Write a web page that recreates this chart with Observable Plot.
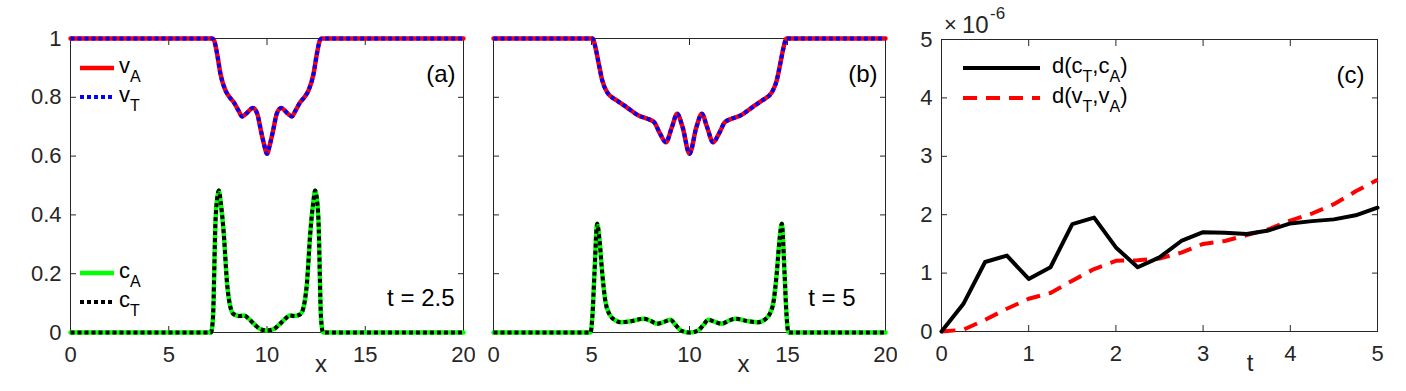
<!DOCTYPE html>
<html>
<head>
<meta charset="utf-8">
<script src="https://cdn.jsdelivr.net/npm/d3@7"></script>
<script src="https://cdn.jsdelivr.net/npm/@observablehq/plot@0.6"></script>
<style>
  body { margin: 0; background: #fff; }
  #wrap { position: relative; width: 1406px; height: 391px; overflow: hidden; background: #fff; }
  .panel { position: absolute; top: 0; }
  svg { font-family: "Liberation Sans", Arial, Helvetica, sans-serif; }
</style>
</head>
<body>
<div id="wrap">
  <div class="panel" id="pa" style="left:0px"></div>
  <div class="panel" id="pb" style="left:480px"></div>
  <div class="panel" id="pc" style="left:900px"></div>
</div>
<script>
// ---------- Data: panel (a), t = 2.5 ----------
const xVa = [0, 7.2, 7.3, 7.46, 7.63, 7.89, 8.1, 8.31, 8.55, 8.73, 8.95, 9.28, 9.5, 9.68, 9.85, 10,
             10.15, 10.32, 10.5, 10.72, 11.05, 11.27, 11.45, 11.69, 11.9, 12.11, 12.37, 12.54, 12.7, 12.8, 20];
const vA_a = [1, 1, 0.995, 0.948, 0.88, 0.823, 0.8, 0.783, 0.755, 0.735, 0.745, 0.764, 0.745, 0.69, 0.64, 0.608,
              0.64, 0.69, 0.745, 0.764, 0.745, 0.735, 0.755, 0.783, 0.8, 0.823, 0.88, 0.948, 0.995, 1, 1];
const vT_a = vA_a.slice();
const xCa = [0, 7.15, 7.25, 7.38, 7.47, 7.55, 7.65, 7.8, 7.97, 8.14, 8.31, 8.6, 8.85, 9.05, 9.33, 9.65, 10,
             10.35, 10.67, 10.95, 11.15, 11.4, 11.69, 11.86, 12.03, 12.2, 12.35, 12.45, 12.53, 12.62, 12.75, 12.85, 20];
const cA_a = [0, 0, 0.05, 0.38, 0.46, 0.483, 0.44, 0.336, 0.166, 0.086, 0.062, 0.056, 0.058, 0.048, 0.03, 0.012, 0.007,
              0.012, 0.03, 0.048, 0.058, 0.056, 0.062, 0.086, 0.166, 0.336, 0.44, 0.483, 0.46, 0.38, 0.05, 0, 0];
const cT_a = cA_a.slice();

// ---------- Data: panel (b), t = 5 ----------
const xVb = [0, 5.05, 5.2, 5.37, 5.55, 5.8, 6.3, 6.8, 7.4, 7.85, 8.2, 8.5, 8.8, 9.1, 9.37, 9.65, 10,
             10.35, 10.63, 10.9, 11.2, 11.5, 11.8, 12.15, 12.6, 13.2, 13.7, 14.2, 14.45, 14.63, 14.8, 14.95, 20];
const vA_b = [1, 1, 0.97, 0.914, 0.857, 0.817, 0.789, 0.766, 0.738, 0.727, 0.715, 0.676, 0.647, 0.698, 0.744, 0.698, 0.608,
              0.698, 0.744, 0.698, 0.647, 0.676, 0.715, 0.727, 0.738, 0.766, 0.789, 0.817, 0.857, 0.914, 0.97, 1, 1];
const vT_b = vA_b.slice();
const xCb = [0, 4.95, 5.05, 5.15, 5.29, 5.4, 5.55, 5.7, 5.9, 6.2, 6.5, 7.0, 7.67, 8.0, 8.35, 8.7, 9.03, 9.3, 9.55, 10,
             10.45, 10.7, 10.97, 11.3, 11.65, 12.0, 12.33, 13.0, 13.5, 13.8, 14.1, 14.3, 14.45, 14.6, 14.71, 14.85, 14.95, 15.05, 20];
const cA_b = [0, 0, 0.06, 0.2, 0.37, 0.32, 0.2, 0.11, 0.064, 0.042, 0.035, 0.038, 0.047, 0.04, 0.03, 0.036, 0.043, 0.025, 0.007, 0,
              0.007, 0.025, 0.043, 0.036, 0.03, 0.04, 0.047, 0.038, 0.035, 0.042, 0.064, 0.11, 0.2, 0.32, 0.37, 0.2, 0.06, 0, 0];
const cT_b = cA_b.slice();

// ---------- Data: panel (c), distances (units of 1e-6) ----------
const tVals = [0, 0.25, 0.5, 0.75, 1, 1.25, 1.5, 1.75, 2, 2.25, 2.5, 2.75, 3, 3.25, 3.5, 3.75, 4, 4.25, 4.5, 4.75, 5];
const dC = [0, 0.47, 1.19, 1.30, 0.90, 1.10, 1.84, 1.95, 1.44, 1.10, 1.27, 1.55, 1.70, 1.69, 1.67, 1.73, 1.85, 1.89, 1.92, 1.99, 2.12];
const dV = [0, 0.03, 0.20, 0.39, 0.56, 0.66, 0.87, 1.07, 1.21, 1.22, 1.25, 1.35, 1.50, 1.55, 1.65, 1.75, 1.90, 2.02, 2.18, 2.40, 2.60];

// ---------- Ticks ----------
const xTicksAB = [0, 5, 10, 15, 20];
const yTicksAB = [0, 0.2, 0.4, 0.6, 0.8, 1];
const xTicksC = [0, 1, 2, 3, 4, 5];
const yTicksC = [0, 1, 2, 3, 4, 5];

const AX = "#262626";
const TICKFONT = 22;
const DOT = "4,3";
const pts = (xs, ys) => xs.map((x, i) => ({x, y: ys[i]}));

function boxAxes(xt, yt, showY, fmtY) {
  return [
    Plot.frame({stroke: AX, strokeWidth: 1}),
    Plot.axisX({anchor: "bottom", ticks: xt, tickSize: -6, tickPadding: 20, fontSize: TICKFONT, color: AX, label: null, tickFormat: d => `${d}`}),
    Plot.axisX({anchor: "top", ticks: xt, tickSize: -6, label: null, tickFormat: () => "", color: AX}),
    Plot.axisY({anchor: "left", ticks: yt, tickSize: -6, tickPadding: showY ? 15 : 0, fontSize: TICKFONT, color: AX, label: null, tickFormat: showY ? fmtY : () => ""}),
    Plot.axisY({anchor: "right", ticks: yt, tickSize: -6, label: null, tickFormat: () => "", color: AX})
  ];
}

function profilePanel(opts) {
  const {xV, vA, vT, xC, cA, cT, width, ml, mr, showY, tag, tlabel, tdx, xlabX} = opts;
  return Plot.plot({
    width, height: 391,
    marginLeft: ml, marginRight: mr, marginTop: 38, marginBottom: 59,
    style: {fontFamily: '"Liberation Sans", Arial, Helvetica, sans-serif', background: "white"},
    x: {domain: [0, 20]},
    y: {domain: [0, 1]},
    marks: [
      ...boxAxes(xTicksAB, yTicksAB, showY, d => `${d}`),
      Plot.line(pts(xC, cA), {x: "x", y: "y", stroke: "#00ff00", strokeWidth: 4.5, curve: "monotone-x"}),
      Plot.line(pts(xC, cT), {x: "x", y: "y", stroke: "black", strokeWidth: 4, strokeDasharray: DOT, strokeLinecap: "butt", curve: "monotone-x"}),
      Plot.line(pts(xV, vA), {x: "x", y: "y", stroke: "#ff0000", strokeWidth: 4.5, curve: "monotone-x"}),
      Plot.line(pts(xV, vT), {x: "x", y: "y", stroke: "#0000ff", strokeWidth: 4, strokeDasharray: DOT, strokeLinecap: "butt", curve: "monotone-x"}),
      Plot.text([tag], {frameAnchor: "top-right", dx: -8, dy: 26, textAnchor: "end", fontSize: 24, fill: "black"}),
      Plot.text([tlabel], {frameAnchor: "bottom-right", dx: tdx, dy: -27, textAnchor: "end", fontSize: 24, fill: "black"}),
      Plot.text(["x"], {x: () => xlabX, frameAnchor: "bottom", dy: 39, fontSize: 24, fill: AX})
    ]
  });
}

const A = profilePanel({xV: xVa, vA: vA_a, vT: vT_a, xC: xCa, cA: cA_a, cT: cT_a,
  width: 475, ml: 70, mr: 12, showY: true, tag: "(a)", tlabel: "t = 2.5", tdx: -9, xlabX: 12.75});
const B = profilePanel({xV: xVb, vA: vA_b, vT: vT_b, xC: xCb, cA: cA_b, cT: cT_b,
  width: 417, ml: 13, mr: 12, showY: false, tag: "(b)", tlabel: "t = 5", tdx: -30, xlabX: 12.75});

const C = Plot.plot({
  width: 506, height: 391,
  marginLeft: 41, marginRight: 29, marginTop: 39, marginBottom: 60,
  style: {fontFamily: '"Liberation Sans", Arial, Helvetica, sans-serif', background: "white"},
  x: {domain: [0, 5]},
  y: {domain: [0, 5]},
  marks: [
    ...boxAxes(xTicksC, yTicksC, true, d => `${d}`),
    Plot.line(pts(tVals, dV), {x: "x", y: "y", stroke: "#ff0000", strokeWidth: 4, strokeDasharray: "14,9", strokeLinecap: "butt"}),
    Plot.line(pts(tVals, dC), {x: "x", y: "y", stroke: "black", strokeWidth: 4}),
    Plot.text(["(c)"], {frameAnchor: "top-right", dx: -13, dy: 26, textAnchor: "end", fontSize: 24, fill: "black"}),
    Plot.text(["t"], {x: () => 3.54, frameAnchor: "bottom", dy: 39, fontSize: 24, fill: AX})
  ]
});

document.getElementById("pa").appendChild(A);
document.getElementById("pb").appendChild(B);
document.getElementById("pc").appendChild(C);

// ---------- Legends (drawn in each panel's SVG) ----------
function legendEntry(svg, x1, x2, y, stroke, width, dash, tx, main, sub) {
  const g = d3.select(svg).append("g");
  g.append("line").attr("x1", x1).attr("x2", x2).attr("y1", y).attr("y2", y)
    .attr("stroke", stroke).attr("stroke-width", width)
    .attr("stroke-dasharray", dash || null);
  const t = g.append("text").attr("x", tx).attr("y", y + 5).attr("fill", "black")
    .style("font-size", "22px").attr("text-anchor", "start");
  t.append("tspan").text(main);
  t.append("tspan").text(sub).style("font-size", "16px").attr("dy", 9);
}
legendEntry(A, 80, 114, 68, "#ff0000", 4.5, null, 119, "v", "A");
legendEntry(A, 80, 114, 97, "#0000ff", 4, DOT, 119, "v", "T");
legendEntry(A, 80, 114, 273, "#00ff00", 4.5, null, 119, "c", "A");
legendEntry(A, 80, 114, 302, "black", 4, DOT, 119, "c", "T");

function legendC(svg, y, stroke, dash, a) {
  const g = d3.select(svg).append("g");
  g.append("line").attr("x1", 63).attr("x2", 140).attr("y1", y).attr("y2", y)
    .attr("stroke", stroke).attr("stroke-width", 4).attr("stroke-dasharray", dash || null);
  const t = g.append("text").attr("x", 152).attr("y", y + 5).attr("fill", "black")
    .style("font-size", "22px").attr("text-anchor", "start");
  t.append("tspan").text(`d(${a}`);
  t.append("tspan").text("T").style("font-size", "16px").attr("dy", 9);
  t.append("tspan").text(`,${a}`).attr("dy", -9);
  t.append("tspan").text("A").style("font-size", "16px").attr("dy", 9);
  t.append("tspan").text(")").attr("dy", -9);
}
legendC(C, 68, "black", null, "c");
legendC(C, 98, "#ff0000", "14,9", "v");

// exponent label (×10^-6)
{
  const g = d3.select(C).append("g").attr("fill", AX).attr("text-anchor", "start");
  g.append("text").attr("x", 44).attr("y", 32).style("font-size", "22px").text("\u00d7");
  g.append("text").attr("x", 62).attr("y", 33).style("font-size", "24px").text("10");
  g.append("text").attr("x", 90).attr("y", 19).style("font-size", "17px").text("-6");
}
</script>
</body>
</html>
